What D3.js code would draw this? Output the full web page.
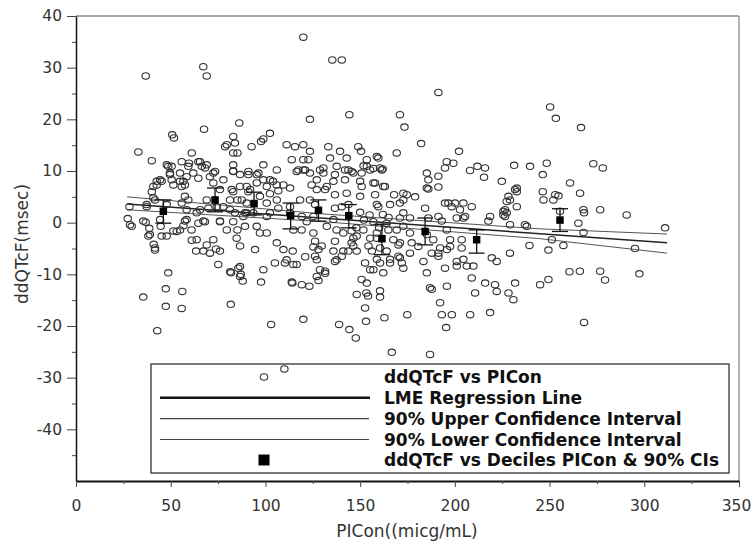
<!DOCTYPE html>
<html>
<head>
<meta charset="utf-8">
<script src="https://cdn.jsdelivr.net/npm/d3@7.9.0/dist/d3.min.js"></script>
<style>
  body { margin: 0; background: #fff; }
  svg { display: block; }
  .tick text { font-family: "DejaVu Sans", sans-serif; font-size: 15.5px; fill: #333; }
  .title { font-family: "DejaVu Sans", sans-serif; font-size: 17px; fill: #333; }
  .legend-text { font-family: "DejaVu Sans", sans-serif; font-size: 17px; font-weight: bold; fill: #111; }
</style>
</head>
<body>
<svg id="chart" width="752" height="542"></svg>
<script>
const observations = [
  [36.8,28.4],[67.2,30.2],[69,28.4],[120,35.9],[135.3,31.5],[140.3,31.5],[144.3,20.9],[123.5,20],
  [67.6,18.1],[86.2,19.3],[32.9,13.7],[40,12],[50.8,17],[51.7,16.4],[61.1,13.5],[59.7,11.5],
  [64.6,11.8],[66.4,10.9],[68.1,10.6],[73.4,9.9],[72.5,7.7],[78.7,14.7],[83,16.7],[83,13.5],
  [85.2,13.5],[83,11.2],[83,10],[86.6,9.3],[91,9.3],[92.7,14.7],[97.7,15.7],[98.9,11.2],
  [96.3,9.6],[102.4,17.3],[102.4,8.3],[104,8],[106,10.2],[111.2,15.1],[115.6,14.7],[120,15.1],
  [123.5,13.8],[113.9,12.2],[117.4,10.2],[121,10.2],[122.7,12.2],[124.4,7.3],[128.8,10.2],[133.2,14.7],
  [134.1,12.5],[130.6,9.6],[139.4,13.8],[137.6,10.9],[143.8,10.2],[149,14.7],[150.5,13.8],[153.5,12.2],
  [153.5,10.9],[158.8,12.8],[157,10.5],[150.8,9.6],[146.4,9.6],[142,8.3],[135.9,8],[132.4,7],
  [142.9,5.7],[136.7,5.4],[140.3,3.1],
  [27.3,0.8],[29.4,-0.7],[28.2,3.1],[37.3,3.1],[36.8,0.1],[38.7,-1.1],[38.2,-2.6],[41.7,-4.9],
  [41,-4.2],[44.7,-0.7],[45.2,-2.6],[47.9,-2.6],[40,6],[40.8,7],[42.6,8],[45.2,8],
  [40.8,4.8],[47.9,11.2],[49.6,9.6],[50.5,10.9],[54.9,8],[57.5,7.3],[57.5,5.1],[54.9,9.6],
  [51.4,7.3],[58.4,2.5],[58.4,0.6],[63.7,1.9],[64.6,-0.1],[68.1,0.2],[69.9,2.8],[74.3,3.1],
  [76,0.2],[79.6,-1.4],[83,0.2],[83.9,1.9],[85.2,4.4],[83,6],[86.6,7],[90.1,7],
  [91,6],[90.1,3.8],[89.2,1.9],[89.2,-0.7],[85.2,-1.4],[84.8,-3],[86.6,-4.5],[93.6,1.9],
  [95.4,-0.7],[97.1,-2],[100.7,-2],[102.4,1.9],[106,4.4],[106.8,6.2],[102.4,5.6],[109.5,7.3],
  [113,1.9],[114.8,-1.4],[119.1,-1.4],[121.8,0.2],[125.3,-2],[126.2,-3.6],[129.7,-4.5],[132.4,-0.7],
  [135.9,0.6],[137.6,-1.4],[141.1,-2],[145.5,-1.6],[146.4,-3],[146.4,-4.5],[148.2,-5.5],[143.8,-5.5],
  [151.7,-1.4],[155.3,-3],[156.2,-5.5],[158.8,-3],
  [69,-4.3],[72.5,-3.3],[67.2,-5.5],[63.7,-3.3],[61,-1.4],[54.9,-1.4],[51.4,-1.6],[75.1,-8.1],
  [81.4,-9.5],[86.6,-8.5],[98.9,-9.1],[105,-7.8],[111.2,-7.2],[116.5,-8.1],[127.1,-7.2],[131.5,-9.8],
  [137.6,-7.2],[141.1,-5.5],[152.6,-7.8],[157,-9.1],[154.4,-4.5],[48.7,-9.7],
  [47.4,-12.8],[47.4,-16.2],[56.1,-13.3],[55.8,-16.6],[81.7,-15.8],[81.8,-9.7],[86.6,-10.4],[88,-11.3],
  [97.7,-11.5],[103,-19.7],[110,-28.3],[114.2,-11.7],[119.2,-12],[123.2,-12.3],[127.1,-10.4],[128,-11.2],
  [131.5,-9.4],[120,-18.7],[138.9,-19.7],[144.3,-20.7],[147.7,-22.3],[148.2,-13.9],[150.8,-11],[153.5,-11.7],
  [153.3,-13.6],[154.2,-14.2],[152.6,-16.5],[153.1,-19.1],[160.5,-13.2],[160.5,-14.4],[35.5,-14.4],[42.9,-20.9],
  [39,-2.3],[41.7,-5.3],[53.2,-1.7],[56.7,-0.6],[61.1,-3.4],[63.4,-5.5],[70.7,-5.9],[73.9,-5.1],
  [76,-5.5],[85.7,-8.8],[87,-10],[94.5,-5.2],[106,-3.9],[109.5,-5.2],[114.4,-5.5],[110.3,-7.8],
  [114.7,-8.1],[113.9,-11.5],[121,-6.6],[125.3,-4.7],
  [128,-5.2],[126.2,-6.5],[128.8,-9.1],[136.7,-3.6],[140.3,-6.5],[136.7,-7.5],[135.9,-5.5],[145.5,-3.9],
  [148.2,-2.6],[155.3,-9.1],[160.5,-7.8],[162.2,-9.7],[162.8,-18.4],[165.8,-7.1],[170.2,-4.3],[171,-6.8],
  [172.8,-8.8],[176.3,-2],[176.3,-5.9],[174.9,-17.8],[166.7,-25.1],[180.7,-4.6],[183.4,-7.5],[185.2,-9.7],
  [186.9,-12.6],[187.8,-12.9],[191.3,-5.9],[186.9,-25.5],[192.2,-15.5],[193.1,-17.8],[198.4,-17.8],[195.4,-20.3],
  [195.8,-12.3],[195.8,-5.2],[194.8,-8.8],[201,-7.5],[203.6,-4.9],[206.3,-8.4],[208.9,-10.7],[210.7,-13.6],
  [208.1,-17.8],[216,-11.7],[221.2,-12],[222.1,-13.3],[218.6,-17.4],[219.5,-6.8],[222.1,-7.5],[229.1,-5.9],
  [228.3,-13.6],[230.9,-14.9],[231.8,-11.7],[203.6,-3.3],[197.5,-3.3],[185.2,-2.3],
  [229.1,-0.4],[238,-0.7],[265.2,-0.1],[311,-1],[267.9,-1.9],[251.2,-3.3],[257.3,-4.4],[249.4,-5.3],
  [239.4,-4.4],[295.1,-5],[260.5,-9.5],[266,-9.4],[276.7,-9.4],[279.3,-11.1],[297.4,-9.9],[249.4,-11],
  [245,-12],[268.2,-19.3],
  [191.3,25.2],[171,20.9],[173.4,18.5],[250.3,22.4],[253.3,20.2],[266.6,18.4],[182.2,15.3],[169.3,13.5],
  [161.9,10.4],[202.2,13.8],[195.7,11.8],[199.2,11.5],[194.8,10.6],[208,10.1],[211.9,10.9],[215.9,10.6],
  [215.4,8.8],[224.8,8],[231.3,11.1],[239.7,10.9],[248.5,11.5],[246.4,9.3],[273.1,11.4],[278.1,10.6],
  [260.8,7.7],[266.1,5.7],[185.2,9.6],[186,8.3],[191.3,9],[191.3,6.9],[186,6.5],[179,5],
  [167.9,5.4],[172.8,5.7],[171,3.8],[165.8,3.5],[172.8,1.9],[157.9,5.4],[162.2,7],[157.9,7.7],
  [159.6,3.1],[196.6,3.8],[200.1,3.8],[204.5,3.8],[208.9,3.1],[202.7,2.5],[205.4,1.2],[227.4,4.1],
  [228.3,5.1],[232.7,6],[231.8,6.4],[226.5,2.5],[225.6,1.5],[246.4,6],[246.8,4.4],[253,5.4],
  [252,4.4],[267.9,2.5],[276.7,2.5],[290.7,1.5],[218.6,1.2],[217.7,0.3],
  [188.6,-3.3],[192.2,-4.9],[197.5,-4.6],[191.3,-6.5],[187.8,-5.9],[204.5,-7.1],[209.8,-8.4],[201,-8.4],
  [177.2,-3.9],[171,-3.9],[167.5,-3.3],[169.3,-1.4],[172.8,-0.7],[176.3,0.9],[164,-0.1],[164.9,-1.4],
  [158.8,-2],[160.5,-4.9],[164,-5.5],[170.2,-6.5],[172,-7.8],[165.8,-7.8],[158.8,-7.1],[184.3,2.8],
  [186,0.9],[191.3,1.2],[193.1,0.3],[195.7,-1.4],[201,0.9],
  [142.9,12.5],[159.6,12.5],[161.4,10.2],[130.6,10.6],[142,10.2],[145.5,9.9],[151.8,11],[155.3,10.2],
  [160.5,10.6],[136.7,9.3],[150,8],[157,7.7],[163.1,7],[150.8,7],[127.1,6.4],[131.5,6.4],
  [150,5.1],[143.8,3.5],[136.7,2.8],[174.6,5.4],[172.8,4.4],[158.8,3.5],[171,0.9],[185.2,6.7],
  [194.8,3.8],[198.3,3.1],[204.5,0.9],[227.4,1.9],[229.1,4.4],[232.7,3.1],
  [79.6,15.1],[83.9,15.4],[98.9,16.2],[120,12.2],[48.7,10.9],[55.8,11.8],[59.3,10.9],[65.5,11.8],
  [69,11.2],[72.5,9.6],[83,9.9],[91,9.9],[95.4,9.3],[100.7,7],[106,7.3],[113,6.7],
  [120,10.2],[116.5,9.9],[123.5,9.6],[127.1,8.3],[44.4,8.3],[42.6,7.3],[49.6,9.3],[50.5,8.3],
  [56.7,8],[58.4,8.9],[55.8,7],[61.9,9.6],[64.6,8.6],[70.7,8.9],[77.8,8.3],[76,6.4],
  [82.2,6.4],[91.9,6.4],[95.4,7.7],[98.9,8.3],
  [37.3,3.5],[41.7,4.4],[47.9,3.5],[55.8,3.8],[59.3,4.4],[65.5,2.5],[69,4.4],[77.8,3.1],
  [81.3,4.4],[81.3,2.5],[87.5,4.4],[90.1,1.9],[97.1,5.1],[100.7,3.8],[106.8,2.8],[113,3.1],
  [118.3,4.4],[123.5,4.4],[126.2,3.5],[119.2,1.2],[125.3,1.2],[100.7,1.2],[88.3,1.2],[76,0.3],
  [67.2,0.3],[57.5,0.3],[44.4,0.6],[35.5,0.3],[28.5,-0.4],
  [232.7,6.7],[225.6,2.2],[226.5,1.2],[254.7,5.2],[268.2,1.9],[237,-0.4],[255.5,2.2],
  [150,2],[152,0.5],[155,1.5],[148,-1],[160,-1],[157,0.2],[162,1.6],[165,1]
];

// LME regression line and 90% confidence limits
const lmeX = [27, 312];
const lmeY = [3.6, -3.9];
const ciX = [27, 130, 245, 312];
const ciUpper = [5.0, 1.7, -1.2, -2.2];
const ciLower = [2.5, 0.2, -3.1, -5.9];

// Decile medians of PICon with mean ddQTcF and 90% CI
const decileX = [46.1, 73.4, 94, 113.3, 128, 144, 161.5, 184.3, 211.5, 255.5];
const decileY = [2.2, 4.4, 3.7, 1.35, 2.4, 1.35, -3.1, -1.7, -3.3, 0.5];
const decileLo = [-0.1, 2.1, 1.5, -1.2, 0.3, -1.0, -6.2, -4.3, -5.9, -1.7];
const decileHi = [4.4, 6.7, 5.9, 3.8, 4.4, 3.5, -0.3, 0.9, -1.4, 2.7];

// Axis ticks
const xTicks = [0, 50, 100, 150, 200, 250, 300, 350];
const xMinor = [25, 75, 125, 175, 225, 275, 325];
const yTicks = [-40, -30, -20, -10, 0, 10, 20, 30, 40];
const yMinor = [-45, -35, -25, -15, -5, 5, 15, 25, 35];

const legendLabels = [
  "ddQTcF vs PICon",
  "LME Regression Line",
  "90% Upper Confidence Interval",
  "90% Lower Confidence Interval",
  "ddQTcF vs Deciles PICon & 90% CIs"
];

const svg = d3.select("#chart");
const plotLeft = 76, plotRight = 739, plotTop = 16, plotBottom = 481;

const x = d3.scaleLinear().domain([0, 350]).range([plotLeft, plotRight]);
const y = d3.scaleLinear().domain([-50, 40]).range([plotBottom, plotTop]);

// Frame on top and right
svg.append("line").attr("x1", plotLeft).attr("x2", plotRight).attr("y1", plotTop).attr("y2", plotTop)
  .attr("stroke", "#8a8a8a").attr("stroke-width", 1.5);
svg.append("line").attr("x1", plotRight).attr("x2", plotRight).attr("y1", plotTop).attr("y2", plotBottom)
  .attr("stroke", "#9a9a9a").attr("stroke-width", 1.5);

// Axes
const yAxis = svg.append("g").attr("transform", `translate(${plotLeft},0)`)
  .call(d3.axisLeft(y).tickValues(yTicks).tickSize(9).tickPadding(5).tickSizeOuter(0)
    .tickFormat(d => String(d)));
yAxis.select(".domain").attr("stroke", "#111").attr("stroke-width", 1.5);
yAxis.selectAll(".tick line").attr("stroke", "#444");

svg.append("g").attr("transform", `translate(${plotLeft},0)`)
  .call(d3.axisLeft(y).tickValues(yMinor).tickSize(4).tickFormat(""))
  .call(g => g.select(".domain").remove())
  .selectAll(".tick line").attr("stroke", "#444");

const xAxis = svg.append("g").attr("transform", `translate(0,${plotBottom})`)
  .call(d3.axisBottom(x).tickValues(xTicks).tickSize(6).tickPadding(13).tickSizeOuter(0)
    .tickFormat(d => String(d)));
xAxis.select(".domain").attr("stroke", "#111").attr("stroke-width", 2.2);
xAxis.selectAll(".tick line").attr("stroke", "#444");
// keep the last label inside the page
xAxis.selectAll(".tick text").filter(d => d === 350).attr("dx", -3);

svg.append("g").attr("transform", `translate(0,${plotBottom})`)
  .call(d3.axisBottom(x).tickValues(xMinor).tickSize(3).tickFormat(""))
  .call(g => g.select(".domain").remove())
  .selectAll(".tick line").attr("stroke", "#444");

// Axis titles
svg.append("text").attr("class", "title")
  .attr("transform", `translate(28,244) rotate(-90)`)
  .attr("text-anchor", "middle")
  .text("ddQTcF(msec)");
svg.append("text").attr("class", "title")
  .attr("x", 407).attr("y", 537)
  .attr("text-anchor", "middle")
  .text("PICon((micg/mL)");

// Regression line and confidence limits
const line = d3.line().x(d => x(d[0])).y(d => y(d[1]));
svg.append("path").datum(ciX.map((v, i) => [v, ciUpper[i]]))
  .attr("d", line).attr("fill", "none").attr("stroke", "#555").attr("stroke-width", 1);
svg.append("path").datum(ciX.map((v, i) => [v, ciLower[i]]))
  .attr("d", line).attr("fill", "none").attr("stroke", "#555").attr("stroke-width", 1);
svg.append("path").datum(lmeX.map((v, i) => [v, lmeY[i]]))
  .attr("d", line).attr("fill", "none").attr("stroke", "#222").attr("stroke-width", 1.5);

// Observed points
svg.append("g").selectAll("ellipse")
  .data(observations)
  .enter()
  .append("ellipse")
  .attr("cx", d => x(d[0]))
  .attr("cy", d => y(d[1]))
  .attr("rx", 3.7)
  .attr("ry", 3.2)
  .attr("fill", "none")
  .attr("stroke", "#333")
  .attr("stroke-width", 1.1);

// Decile means with 90% CI bars
const deciles = decileX.map((v, i) => ({ x: v, y: decileY[i], lo: decileLo[i], hi: decileHi[i] }));
const dg = svg.append("g");
dg.selectAll(".bar").data(deciles).enter().append("line")
  .attr("x1", d => x(d.x)).attr("x2", d => x(d.x))
  .attr("y1", d => y(d.hi)).attr("y2", d => y(d.lo))
  .attr("stroke", "#111").attr("stroke-width", 1.3);
dg.selectAll(".capHi").data(deciles).enter().append("line")
  .attr("x1", d => x(d.x) - 8).attr("x2", d => x(d.x) + 8)
  .attr("y1", d => y(d.hi)).attr("y2", d => y(d.hi))
  .attr("stroke", "#111").attr("stroke-width", 1.3);
dg.selectAll(".capLo").data(deciles).enter().append("line")
  .attr("x1", d => x(d.x) - 8).attr("x2", d => x(d.x) + 8)
  .attr("y1", d => y(d.lo)).attr("y2", d => y(d.lo))
  .attr("stroke", "#111").attr("stroke-width", 1.3);
dg.selectAll("rect").data(deciles).enter().append("rect")
  .attr("x", d => x(d.x) - 3.75).attr("y", d => y(d.y) - 3.75)
  .attr("width", 7.5).attr("height", 7.5)
  .attr("fill", "#000");

// Legend
const legend = svg.append("g");
legend.append("rect").attr("x", 151).attr("y", 364).attr("width", 578).attr("height", 109)
  .attr("fill", "none").attr("stroke", "#222").attr("stroke-width", 1.2);
const rowY = [377, 397.7, 418.6, 439.5, 460];
legend.append("ellipse").attr("cx", 264).attr("cy", rowY[0]).attr("rx", 3.7).attr("ry", 3.2)
  .attr("fill", "none").attr("stroke", "#333").attr("stroke-width", 1.1);
legend.append("line").attr("x1", 160).attr("x2", 370).attr("y1", rowY[1]).attr("y2", rowY[1])
  .attr("stroke", "#111").attr("stroke-width", 2.6);
legend.append("line").attr("x1", 160).attr("x2", 369).attr("y1", rowY[2]).attr("y2", rowY[2])
  .attr("stroke", "#444").attr("stroke-width", 1.1);
legend.append("line").attr("x1", 160).attr("x2", 369).attr("y1", rowY[3]).attr("y2", rowY[3])
  .attr("stroke", "#444").attr("stroke-width", 1.1);
legend.append("rect").attr("x", 258.5).attr("y", rowY[4] - 5.5).attr("width", 11).attr("height", 11)
  .attr("fill", "#000");
legend.selectAll("text").data(legendLabels).enter().append("text")
  .attr("class", "legend-text")
  .attr("x", 384)
  .attr("y", (d, i) => rowY[i] + 6)
  .text(d => d);
</script>
</body>
</html>
